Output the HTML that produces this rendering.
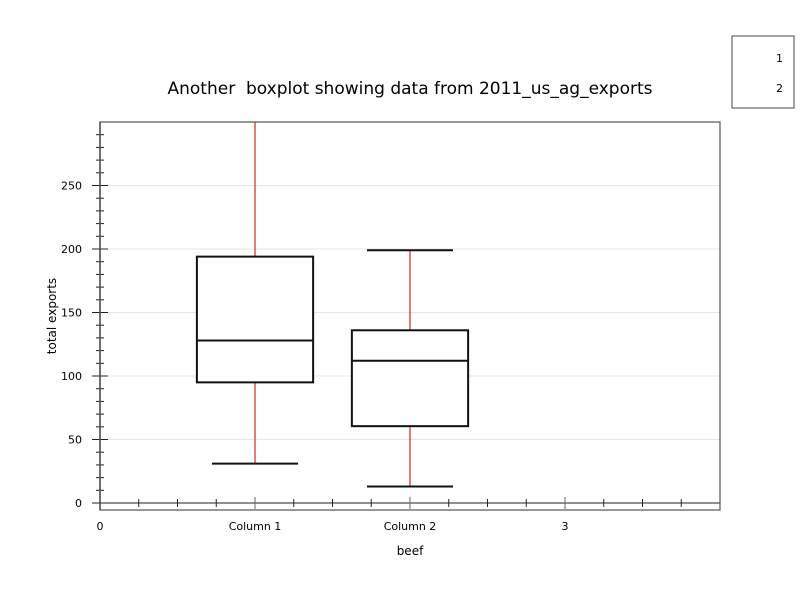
<!DOCTYPE html>
<html><head><meta charset="utf-8"><style>
body{margin:0;background:#fff;font-family:"DejaVu Sans","Liberation Sans",sans-serif}
svg text{font-family:"DejaVu Sans","Liberation Sans",sans-serif}
</style></head><body>
<svg id="c" width="800" height="600" xmlns="http://www.w3.org/2000/svg">
<rect width="800" height="600" fill="#fff"/>
<text x="410" y="94" font-size="17" text-anchor="middle" style="white-space:pre">Another  boxplot showing data from 2011_us_ag_exports</text>
<g>
<rect x="732" y="36" width="62" height="72" fill="#fff" stroke="#444"/>
<text x="783" y="62" font-size="11" text-anchor="end">1</text>
<text x="783" y="92" font-size="11" text-anchor="end">2</text>
</g>
<g id="grid"></g><g id="axes"></g><g id="boxes"></g>
<rect x="100" y="122" width="620" height="388" fill="none" stroke="#555" stroke-width="1.2"/>
<text x="410" y="555" font-size="12" text-anchor="middle">beef</text>
<text x="56" y="316" font-size="12" text-anchor="middle" transform="rotate(-90 56 316)">total exports</text>
</svg>
<script>
const categories = ["Column 1", "Column 2"];
const lowWhisker = [31, 13];
const q1Values = [95, 60.5];
const medianValues = [128, 112];
const q3Values = [194, 136];
const highWhisker = [300, 199];
const yTicks = [0, 50, 100, 150, 200, 250];
const xTickLabels = ["0", "Column 1", "Column 2", "3"];

const NS = "http://www.w3.org/2000/svg";
const X0 = 100, X1 = 720, Y0 = 510, Y1 = 122;
const xMin = 0, xMax = 4, yMin = -5.5, yMax = 300;
const xs = v => X0 + (v - xMin) / (xMax - xMin) * (X1 - X0);
const ys = v => Y0 - (v - yMin) / (yMax - yMin) * (Y0 - Y1);
function mk(tag, attrs, parent) {
  const e = document.createElementNS(NS, tag);
  for (const k in attrs) e.setAttribute(k, attrs[k]);
  document.getElementById(parent).appendChild(e);
  return e;
}
yTicks.forEach(t => {
  const g = mk("line", {x1: X0, x2: X1, y1: ys(t), y2: ys(t), stroke: "#e6e6e6", "stroke-width": 1}, "grid");
  
  
  const l = mk("text", {x: 82, y: ys(t) + 4, "font-size": 11, "text-anchor": "end"}, "axes");
  l.textContent = t;
  
  
});
for (let v = 0; v < yMax; v += 10) {
  const major = v % 50 === 0;
  const t = mk("line", {x1: major ? 92 : 96, x2: major ? 108 : 104, y1: ys(v), y2: ys(v), stroke: "#222", "stroke-width": 1}, "axes");
  
  
}
const ya = mk("line", {x1: X0, x2: X0, y1: Y1, y2: Y0, stroke: "#333", "stroke-width": 1.5}, "axes");


const xa = mk("line", {x1: X0 - 6, x2: X1, y1: ys(0), y2: ys(0), stroke: "#222", "stroke-width": 1}, "axes");


for (let v = 0.25; v < xMax; v += 0.25) {
  const major = Math.abs(v - Math.round(v)) < 1e-9;
  const t = mk("line", {x1: xs(v), x2: xs(v), y1: ys(0) - (major ? 6 : 4), y2: ys(0) + (major ? 6 : 4), stroke: major ? "#666" : "#222", "stroke-width": 1}, "axes");
  
  
}
xTickLabels.forEach((s, i) => {
  const l = mk("text", {x: xs(i), y: 530, "font-size": 11, "text-anchor": "middle"}, "axes");
  l.textContent = s;
  
  
});
categories.forEach((c, i) => {
  const cx = xs(i + 1), hw = 0.375 * 155, cw = 43;
  const w = mk("line", {x1: cx, x2: cx, y1: ys(lowWhisker[i]), y2: ys(highWhisker[i]), stroke: "#d9534f", "stroke-width": 1.5}, "boxes");
  
  
  [lowWhisker[i], highWhisker[i]].forEach(v => {
    if (v >= yMax) return;
    const cap = mk("line", {x1: cx - cw, x2: cx + cw, y1: ys(v), y2: ys(v), stroke: "#111", "stroke-width": 2}, "boxes");
    
    
  });
  const b = mk("rect", {x: cx - hw, y: ys(q3Values[i]), width: 2 * hw, height: ys(q1Values[i]) - ys(q3Values[i]), fill: "#fff", stroke: "#111", "stroke-width": 2}, "boxes");
  
  
  const m = mk("line", {x1: cx - hw, x2: cx + hw, y1: ys(medianValues[i]), y2: ys(medianValues[i]), stroke: "#111", "stroke-width": 2}, "boxes");
  
  
});
</script>
</body></html>
